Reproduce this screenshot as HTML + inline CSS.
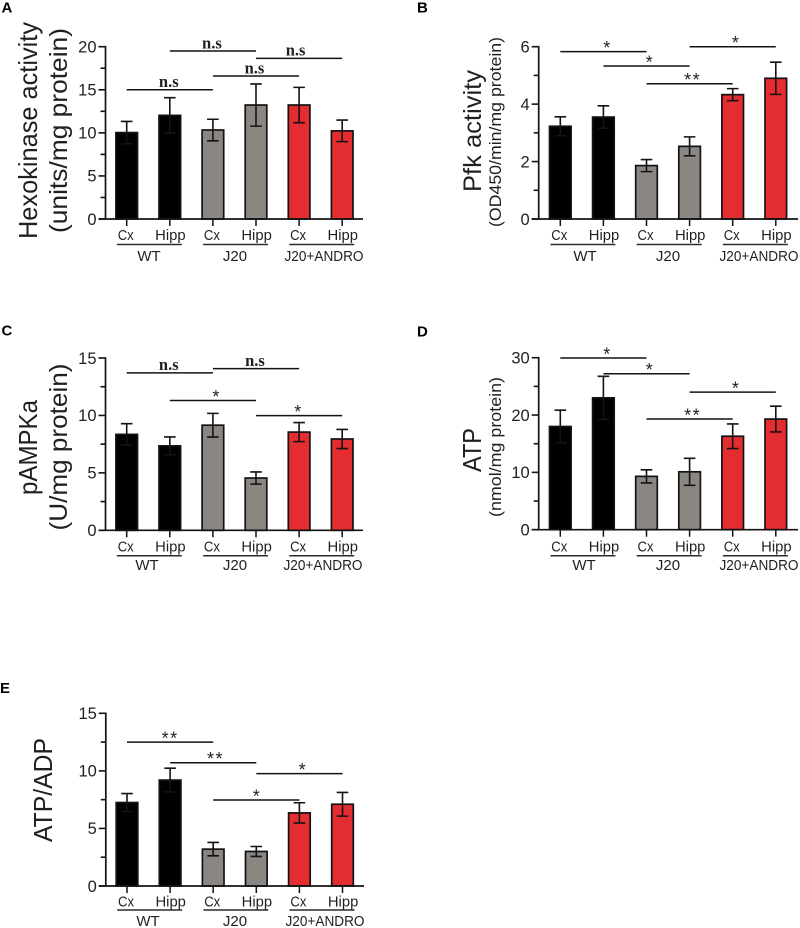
<!DOCTYPE html>
<html lang="en">
<head>
<meta charset="utf-8">
<title>Metabolic activity bar charts</title>
<style>
html,body{margin:0;padding:0;background:#fff;}
svg{display:block;}
text{font-family:"Liberation Sans",sans-serif;fill:#231f20;}
</style>
</head>
<body>
<svg id="fig" width="800" height="928" viewBox="0 0 800 928" xmlns="http://www.w3.org/2000/svg"></svg>
<script>
// ---------- shared categories ----------
const categories = ["Cx", "Hipp", "Cx", "Hipp", "Cx", "Hipp"];
const groupNames = ["WT", "J20", "J20+ANDRO"];
const groupOfBar = [0, 0, 1, 1, 2, 2];

// ---------- panel A ----------
const aValues = [10.03, 12.03, 10.33, 13.23, 13.23, 10.23];
const aErrors = [1.3, 2.05, 1.25, 2.45, 2.05, 1.25];
const aTicks = [0, 5, 10, 15, 20];
const aBracketFrom = [0, 1, 2, 3];
const aBracketTo = [2, 3, 4, 5];
const aBracketLevel = [15, 19.5, 16.6, 18.65];
const aBracketText = ["n.s", "n.s", "n.s", "n.s"];

// ---------- panel B ----------
const bValues = [3.23, 3.55, 1.86, 2.53, 4.33, 4.9];
const bErrors = [0.33, 0.39, 0.21, 0.33, 0.21, 0.56];
const bTicks = [0, 2, 4, 6];
const bBracketFrom = [0, 1, 2, 3];
const bBracketTo = [2, 3, 4, 5];
const bBracketLevel = [5.83, 5.33, 4.71, 6.0];
const bBracketText = ["*", "*", "**", "*"];

// ---------- panel C ----------
const cValues = [8.35, 7.35, 9.15, 4.55, 8.55, 7.95];
const cErrors = [0.93, 0.78, 1.03, 0.53, 0.83, 0.83];
const cTicks = [0, 5, 10, 15];
const cBracketFrom = [0, 2, 1, 3];
const cBracketTo = [2, 4, 3, 5];
const cBracketLevel = [13.7, 14.07, 11.3, 9.98];
const cBracketText = ["n.s", "n.s", "*", "*"];

// ---------- panel D ----------
const dValues = [18.0, 23.0, 9.3, 10.1, 16.3, 19.3];
const dErrors = [2.85, 3.75, 1.15, 2.35, 2.15, 2.25];
const dTicks = [0, 10, 20, 30];
const dBracketFrom = [0, 1, 3, 2];
const dBracketTo = [2, 3, 5, 4];
const dBracketLevel = [29.95, 27.2, 24, 19.3];
const dBracketText = ["*", "*", "*", "**"];

// ---------- panel E ----------
const eValues = [7.25, 9.2, 3.2, 3.0, 6.35, 7.1];
const eErrors = [0.78, 1.03, 0.58, 0.43, 0.88, 1.03];
const eTicks = [0, 5, 10, 15];
const eBracketFrom = [0, 1, 3, 2];
const eBracketTo = [2, 3, 5, 4];
const eBracketLevel = [12.5, 10.7, 9.76, 7.47];
const eBracketText = ["**", "**", "*", "*"];

// ---------- layout ----------
const NS = "http://www.w3.org/2000/svg";
const fig = document.getElementById("fig");
const INK = "#141212";
const FILLS = ["#000000", "#8a8783", "#e32d30"];

function make(parent, tag, attrs, content) {
  const el = document.createElementNS(NS, tag);
  for (const k in attrs) el.setAttribute(k, attrs[k]);
  if (content !== undefined) el.textContent = content;
  parent.appendChild(el);
  return el;
}

function rotatedText(parent, x, y, size, length, content) {
  return make(parent, "text", {
    x: 0, y: 0, "font-size": size, "text-anchor": "middle",
    textLength: length, lengthAdjust: "spacingAndGlyphs",
    transform: "translate(" + x + " " + y + ") rotate(-90)"
  }, content);
}

const panels = [
  { id: "a", letter: "A", lx: 1.5, ly: 12.7, values: aValues, errors: aErrors, ticks: aTicks, minorStep: 2.5, majorStep: 5,
    from: aBracketFrom, to: aBracketTo, level: aBracketLevel, text: aBracketText, shift: [-1, -1, -1.5, -3.5],
    axisX: 105.5, y0: 219, yTop: 46.7, xEnd: 363, x0: 126.7, step: 43.1,
    catY: 240, lineY: 244.5, groupY: 261, groupCx: [149, 235, 324],
    titles: [{ x: 37, y: 130.5, size: 26, len: 217, t: "Hexokinase activity" }, { x: 67, y: 130.5, size: 25, len: 205, t: "(units/mg protein)" }] },
  { id: "b", letter: "B", lx: 417, ly: 12.7, values: bValues, errors: bErrors, ticks: bTicks, minorStep: 1, majorStep: 2,
    from: bBracketFrom, to: bBracketTo, level: bBracketLevel, text: bBracketText, shift: [3.3, 2.7, 3, 2.7],
    axisX: 538.7, y0: 219, yTop: 46.7, xEnd: 798, x0: 560.3, step: 43.1,
    catY: 240, lineY: 244.5, groupY: 261, groupCx: [585, 668, 759],
    titles: [{ x: 481, y: 131, size: 25, len: 122, t: "Pfk activity" }, { x: 501, y: 132, size: 17, len: 190, t: "(OD450/min/mg protein)" }] },
  { id: "c", letter: "C", lx: 1.5, ly: 335.7, values: cValues, errors: cErrors, ticks: cTicks, minorStep: 2.5, majorStep: 5,
    from: cBracketFrom, to: cBracketTo, level: cBracketLevel, text: cBracketText, shift: [-1, -1, 3, -1.3],
    axisX: 105.5, y0: 530.3, yTop: 358, xEnd: 363, x0: 126.7, step: 43.1,
    catY: 551.7, lineY: 555.7, groupY: 570, groupCx: [147, 235, 323],
    titles: [{ x: 37, y: 447.5, size: 26, len: 95, t: "pAMPKa" }, { x: 67, y: 447, size: 25, len: 167, t: "(U/mg protein)" }] },
  { id: "d", letter: "D", lx: 417, ly: 336.7, values: dValues, errors: dErrors, ticks: dTicks, minorStep: 5, majorStep: 10,
    from: dBracketFrom, to: dBracketTo, level: dBracketLevel, text: dBracketText, shift: [3.3, 2.7, 2.7, 3],
    axisX: 538.7, y0: 529.7, yTop: 357.7, xEnd: 798, x0: 560.3, step: 43.1,
    catY: 551.7, lineY: 555.7, groupY: 570, groupCx: [584, 668, 759],
    titles: [{ x: 481, y: 450, size: 26, len: 44, t: "ATP" }, { x: 501, y: 447, size: 17, len: 140, t: "(nmol/mg protein)" }] },
  { id: "e", letter: "E", lx: 0, ly: 693, values: eValues, errors: eErrors, ticks: eTicks, minorStep: 2.5, majorStep: 5,
    from: eBracketFrom, to: eBracketTo, level: eBracketLevel, text: eBracketText, shift: [0, 2.3, 2.7, 0],
    axisX: 105.8, y0: 886, yTop: 713.3, xEnd: 364, x0: 127, step: 43.1,
    catY: 906.7, lineY: 910, groupY: 926, groupCx: [148, 235, 325],
    titles: [{ x: 52, y: 790, size: 26, len: 104, t: "ATP/ADP" }] }
];

function drawPanel(p) {
  const g = make(fig, "g", {});
  
  

  const max = p.ticks[p.ticks.length - 1];
  const yScale = function (v) { return p.y0 - (v / max) * (p.y0 - p.yTop); };
  const xScale = function (i) { return p.x0 + i * p.step; };

  const letter = make(g, "text", { x: p.lx, y: p.ly, "font-size": 15, "font-weight": "bold", style: "fill:#000" }, p.letter);
  
  

  p.titles.forEach(function (t, i) {
    const title = rotatedText(g, t.x, t.y, t.size, t.len, t.t);
    
    
  });

  // bars and error bars
  p.values.forEach(function (v, i) {
    const cx = xScale(i);
    const top = yScale(v);
    const bar = make(g, "rect", {
      x: cx - 10.8, y: top, width: 21.6, height: p.y0 - top,
      fill: FILLS[groupOfBar[i]], stroke: INK, "stroke-width": 1.7
    });
    
    

    const hi = yScale(v + p.errors[i]);
    const lo = yScale(v - p.errors[i]);
    const err = make(g, "path", {
      d: "M" + (cx - 5.8) + " " + hi + "H" + (cx + 5.8) + "M" + cx + " " + hi + "V" + lo + "M" + (cx - 5.8) + " " + lo + "H" + (cx + 5.8),
      fill: "none", stroke: INK, "stroke-width": 1.6
    });
    
    
  });

  // y axis
  const yAxis = make(g, "g", {});
  
  
  make(yAxis, "line", { x1: p.axisX, x2: p.axisX, y1: p.yTop - 0.8, y2: p.y0, stroke: INK, "stroke-width": 1.7 });
  for (let k = 0; k * p.minorStep <= max + 1e-9; k++) {
    const v = k * p.minorStep;
    const major = k % 2 === 0;
    make(yAxis, "line", {
      x1: p.axisX - (major ? 7 : 5), x2: p.axisX, y1: yScale(v), y2: yScale(v),
      stroke: INK, "stroke-width": 1.6
    });
  }
  p.ticks.forEach(function (v) {
    const lab = make(yAxis, "text", {
      x: p.axisX - 9, y: yScale(v) + 5.8, "font-size": 16.5, "text-anchor": "end"
    }, String(v));
    
    
  });

  // x axis
  const xAxis = make(g, "g", {});
  
  
  make(xAxis, "line", { x1: p.axisX - 7, x2: p.xEnd, y1: p.y0, y2: p.y0, stroke: INK, "stroke-width": 1.7 });
  categories.forEach(function (c, i) {
    const cx = xScale(i);
    make(xAxis, "line", { x1: cx, x2: cx, y1: p.y0, y2: p.y0 + 7, stroke: INK, "stroke-width": 1.5 });
    const lab = make(xAxis, "text", {
      x: cx + (c === "Hipp" ? 0.6 : -1), y: p.catY, "font-size": 15, "text-anchor": "middle",
      textLength: c === "Hipp" ? 30.5 : 16, lengthAdjust: "spacingAndGlyphs"
    }, c);
    
    
  });
  groupNames.forEach(function (name, j) {
    const first = j * 2;
    const under = make(xAxis, "line", {
      x1: xScale(first) - 9.8, x2: xScale(first + 1) + 12, y1: p.lineY, y2: p.lineY,
      stroke: "#2e2a29", "stroke-width": 1.5
    });
    
    
    const lab = make(xAxis, "text", {
      x: p.groupCx[j], y: p.groupY, "font-size": 15, "text-anchor": "middle"
    }, name);
    if (j === 2) {
      lab.setAttribute("textLength", 79);
      lab.setAttribute("lengthAdjust", "spacingAndGlyphs");
    }
    
    
  });

  // significance brackets
  p.from.forEach(function (f, i) {
    const y = yScale(p.level[i]);
    const x1 = xScale(f);
    const x2 = xScale(p.to[i]);
    const line = make(g, "line", { x1: x1, x2: x2, y1: y, y2: y, stroke: "#141212", "stroke-width": 1.5 });
    
    
    const s = p.text[i];
    const mid = (x1 + x2) / 2 + p.shift[i];
    let lab;
    if (s === "n.s") {
      lab = make(g, "text", {
        x: mid, y: y - 2.7, "font-size": 16.5, "font-weight": "bold", "text-anchor": "middle",
        style: 'font-family:"Liberation Serif",serif'
      }, s);
    } else {
      lab = make(g, "text", {
        x: mid, y: y + 2.4, "font-size": 18, "text-anchor": "middle",
        "letter-spacing": s === "**" ? 1.5 : 0
      }, s);
    }
    
    
  });
}

panels.forEach(drawPanel);
</script>
</body>
</html>
